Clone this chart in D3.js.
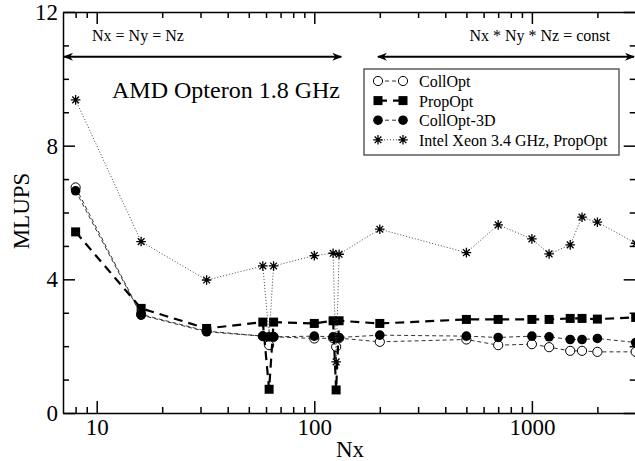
<!DOCTYPE html>
<html lang="en">
<head>
<meta charset="UTF-8">
<title>MLUPS vs Nx</title>
<script src="https://cdn.jsdelivr.net/npm/d3@7"></script>
<style>
    body { margin: 0; background: #fff; }
    svg { display: block; font-family: "Liberation Serif", "Times New Roman", serif; }
    .axis path, .axis line { stroke: #000; stroke-width: 1.5px; }
    .axis text { font-size: 23px; fill: #000; font-family: "Liberation Serif", serif; }
</style>
</head>
<body>
<div id="chart"></div>
<script>
// data
const nx = [8, 16, 32, 58, 62, 65, 100, 122, 126, 130, 200, 500, 700, 1000, 1200, 1500, 1700, 2000, 3000]
const collOpt = [6.75, 2.95, 2.45, 2.30, 2.03, 2.28, 2.23, 2.24, 1.98, 2.24, 2.13, 2.20, 2.03, 2.06, 1.97, 1.86, 1.86, 1.83, 1.83]
const propOpt = [5.42, 3.13, 2.53, 2.72, 0.71, 2.72, 2.68, 2.76, 0.69, 2.76, 2.68, 2.80, 2.80, 2.80, 2.80, 2.83, 2.83, 2.81, 2.86]
const collOpt3D = [6.65, 2.93, 2.43, 2.30, 2.28, 2.28, 2.30, 2.28, 2.26, 2.26, 2.33, 2.30, 2.26, 2.30, 2.28, 2.20, 2.20, 2.23, 2.11]
const intel = [9.37, 5.13, 3.98, 4.40, 2.30, 4.40, 4.71, 4.78, 1.53, 4.75, 5.50, 4.80, 5.63, 5.21, 4.76, 5.03, 5.86, 5.71, 5.08]

const seriesNames = ['CollOpt', 'PropOpt', 'CollOpt-3D', 'Intel Xeon 3.4 GHz, PropOpt']
const xMajor = [10, 100, 1000]
const xTicks = [8, 9, 10, 20, 30, 40, 50, 60, 70, 80, 90, 100, 200, 300, 400, 500, 600, 700, 800, 900, 1000, 2000, 3000]
const yTicks = d3.range(0, 13)

const W = 635, H = 461
const svg = d3.select('#chart').append('svg').attr('width', W).attr('height', H)

const x = d3.scaleLog().domain([7, 3000]).range([63, 635.7])
const y = d3.scaleLinear().domain([0, 12]).range([413, 12])

// axes, ticks pointing inward
const axB = svg.append('g').attr('class', 'axis').attr('transform', 'translate(0,413)')
    .call(d3.axisBottom(x).tickValues(xTicks).tickSize(-6).tickSizeOuter(0).tickPadding(6)
        .tickFormat(d => xMajor.includes(d) ? d : ''))
const axT = svg.append('g').attr('class', 'axis').attr('transform', 'translate(0,12)')
    .call(d3.axisTop(x).tickValues(xTicks).tickSize(-6).tickSizeOuter(0).tickFormat(''))
const axL = svg.append('g').attr('class', 'axis').attr('transform', 'translate(63,0)')
    .call(d3.axisLeft(y).tickValues(yTicks).tickSize(-6).tickSizeOuter(0).tickPadding(5)
        .tickFormat(d => d % 4 === 0 ? d : ''))
const axR = svg.append('g').attr('class', 'axis').attr('transform', 'translate(635.7,0)')
    .call(d3.axisRight(y).tickValues(yTicks).tickSize(-6).tickSizeOuter(0).tickFormat(''))

axB.selectAll('.tick').filter(d => xMajor.includes(d)).select('line').attr('y2', -12)
axT.selectAll('.tick').filter(d => xMajor.includes(d)).select('line').attr('y2', 12)
axL.selectAll('.tick').filter(d => d % 4 === 0).select('line').attr('x2', 12)
axR.selectAll('.tick').filter(d => d % 4 === 0).select('line').attr('x2', -12)

// axis titles
svg.append('text').attr('x', 350).attr('y', 457).attr('text-anchor', 'middle')
    .style('font-size', '23px').text('Nx')
svg.append('text').attr('transform', 'translate(29,211) rotate(-90)').attr('text-anchor', 'middle')
    .style('font-size', '23px').text('MLUPS')

// arrows and region notes
const defs = svg.append('defs')
defs.append('marker').attr('id', 'arr').attr('viewBox', '0 0 10 10')
    .attr('refX', 9).attr('refY', 5).attr('markerWidth', 5).attr('markerHeight', 5)
    .attr('orient', 'auto-start-reverse')
    .append('path').attr('d', 'M0,1 L10,5 L0,9 L3,5 z').attr('fill', '#000')

const arrowY = 10.66
svg.append('line').attr('x1', x(7) + 1).attr('x2', x(133)).attr('y1', y(arrowY)).attr('y2', y(arrowY))
    .attr('stroke', '#000').attr('stroke-width', 2)
    .attr('marker-start', 'url(#arr)').attr('marker-end', 'url(#arr)')
svg.append('line').attr('x1', x(196)).attr('x2', 634).attr('y1', y(arrowY)).attr('y2', y(arrowY))
    .attr('stroke', '#000').attr('stroke-width', 2)
    .attr('marker-start', 'url(#arr)').attr('marker-end', 'url(#arr)')

svg.append('text').attr('x', 92).attr('y', 41).style('font-size', '16px').text('Nx = Ny = Nz')
svg.append('text').attr('x', 610).attr('y', 41).attr('text-anchor', 'end')
    .style('font-size', '16px').text('Nx * Ny * Nz = const')
svg.append('text').attr('x', 112).attr('y', 98).style('font-size', '24px').text('AMD Opteron 1.8 GHz')

// marker helpers
function drawStar(g, cx, cy, r) {
    const d = `M${cx - r},${cy}L${cx + r},${cy}M${cx},${cy - r}L${cx},${cy + r}` +
        `M${cx - r * 0.7},${cy - r * 0.7}L${cx + r * 0.7},${cy + r * 0.7}` +
        `M${cx - r * 0.7},${cy + r * 0.7}L${cx + r * 0.7},${cy - r * 0.7}`
    g.append('path').attr('d', d).attr('stroke', '#000').attr('stroke-width', 1.3).attr('fill', 'none')
}
function drawMarker(g, kind, cx, cy) {
    if (kind === 'open') {
        g.append('circle').attr('cx', cx).attr('cy', cy).attr('r', 4.6)
            .attr('fill', '#fff').attr('stroke', '#000').attr('stroke-width', 1)
    } else if (kind === 'dot') {
        g.append('circle').attr('cx', cx).attr('cy', cy).attr('r', 4.8).attr('fill', '#000')
    } else if (kind === 'square') {
        g.append('rect').attr('x', cx - 4.5).attr('y', cy - 4.5).attr('width', 9).attr('height', 9).attr('fill', '#000')
    } else {
        drawStar(g, cx, cy, 4.8)
    }
}

const series = [
    {name: seriesNames[0], values: collOpt, kind: 'open', width: 1, dash: '4,3', color: '#333'},
    {name: seriesNames[1], values: propOpt, kind: 'square', width: 2.2, dash: '9,6', color: '#000'},
    {name: seriesNames[2], values: collOpt3D, kind: 'dot', width: 1, dash: '4,3', color: '#333'},
    {name: seriesNames[3], values: intel, kind: 'star', width: 1, dash: '1,2', color: '#444'}
]

const line = d3.line().x(d => x(d[0])).y(d => y(d[1]))

series.forEach(s => {
    const pts = nx.map((n, i) => [n, s.values[i]])
    const g = svg.append('g')
    g.append('path').datum(pts).attr('d', line).attr('fill', 'none')
        .attr('stroke', s.color).attr('stroke-width', s.width).attr('stroke-dasharray', s.dash)
    pts.forEach(p => drawMarker(g, s.kind, x(p[0]), y(p[1])))
})

// legend
const lg = svg.append('g')
lg.append('rect').attr('x', 364).attr('y', 69).attr('width', 255).attr('height', 86)
    .attr('fill', '#fff').attr('stroke', '#444').attr('stroke-width', 1.3)
series.forEach((s, i) => {
    const cy = 81 + i * 19.6
    lg.append('line').attr('x1', 378).attr('x2', 403).attr('y1', cy).attr('y2', cy)
        .attr('stroke', s.color).attr('stroke-width', s.width).attr('stroke-dasharray', s.dash)
    drawMarker(lg, s.kind, 378, cy)
    drawMarker(lg, s.kind, 403, cy)
    lg.append('text').attr('x', 419).attr('y', cy + 6).style('font-size', '16px').text(s.name)
})
</script>
</body>
</html>
